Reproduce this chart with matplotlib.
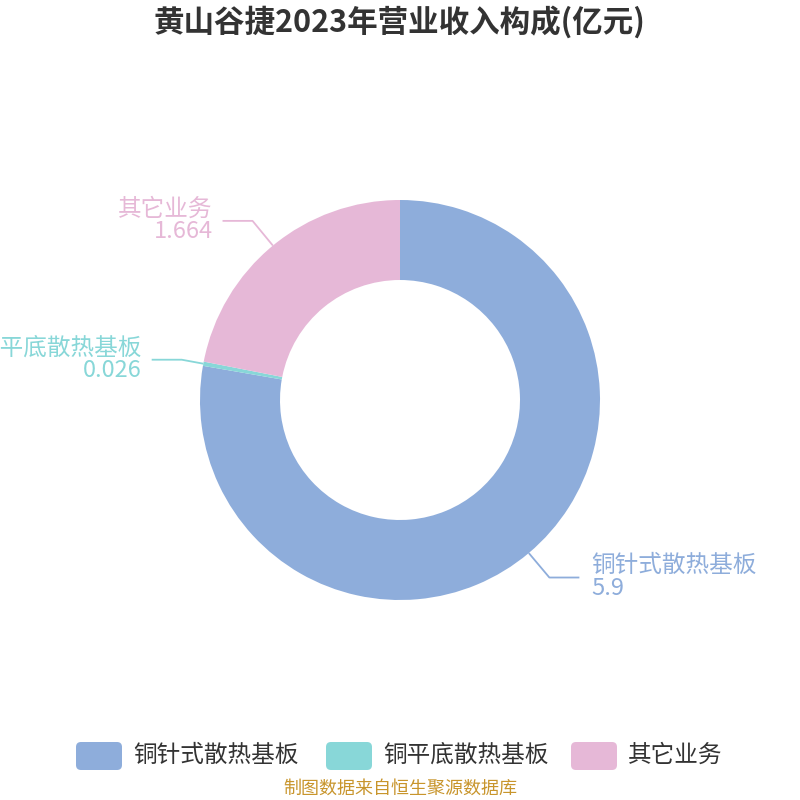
import numpy as np
import matplotlib.pyplot as plt
from matplotlib.patches import FancyBboxPatch

plt.rcParams['font.family'] = ['Noto Sans CJK SC', 'DejaVu Sans']

names = ['铜针式散热基板', '铜平底散热基板', '其它业务']
values = [5.9, 0.026, 1.664]
value_labels = ['5.9', '0.026', '1.664']
colors = ['#8eaddb', '#88d7d8', '#e6b8d7']

fig = plt.figure(figsize=(8, 8), dpi=100)
ax = fig.add_axes([0, 0, 1, 1])

cx, cy, R = 400, 400, 200
# y axis is inverted (pixel-like coords), so data-counterclockwise = visually clockwise
wedges, _ = ax.pie(values, colors=colors, startangle=-90, counterclock=True,
                   center=(cx, cy), radius=R, frame=True,
                   wedgeprops=dict(width=80, linewidth=0))
ax.set_xlim(0, 800)
ax.set_ylim(800, 0)
ax.set_aspect('equal')
ax.axis('off')

# leader lines + labels
for w, name, vl, c in zip(wedges, names, value_labels, colors):
    mid = np.deg2rad((w.theta1 + w.theta2) / 2)
    dx, dy = np.cos(mid), np.sin(mid)
    x0, y0 = cx + R * dx, cy + R * dy
    elbow = R + 32 if abs(dy) > 0.3 else R + 22
    x1, y1 = cx + elbow * dx, cy + elbow * dy
    if dx > 0:
        x2, ha, tx = x1 + 30, 'left', x1 + 42
    else:
        x2, ha, tx = x1 - 30, 'right', x1 - 40
    ax.plot([x0, x1, x2], [y0, y1, y1], color=c, lw=1.3, solid_capstyle='butt')
    ax.text(tx, y1 - 12, name, color=c, fontsize=17, ha=ha, va='center')
    ax.text(tx, y1 + 11, vl, color=c, fontsize=17, ha=ha, va='center')

ax.text(400, 22, '黄山谷捷2023年营业收入构成(亿元)', fontsize=22, fontweight='bold',
        color='#333333', ha='center', va='center')

# legend
leg_x = [75, 325, 570]
for lx, name, c in zip(leg_x, names, colors):
    ax.add_patch(FancyBboxPatch((lx + 4, 745), 40, 22,
                                boxstyle='round,pad=3,rounding_size=5',
                                facecolor=c, edgecolor='none'))
    ax.text(lx + 58, 755, name, fontsize=17, color='#333333', ha='left', va='center')

ax.text(400, 789, '制图数据来自恒生聚源数据库', fontsize=13, color='#c8952c',
        ha='center', va='center')

fig.savefig('out.png', dpi=100)
